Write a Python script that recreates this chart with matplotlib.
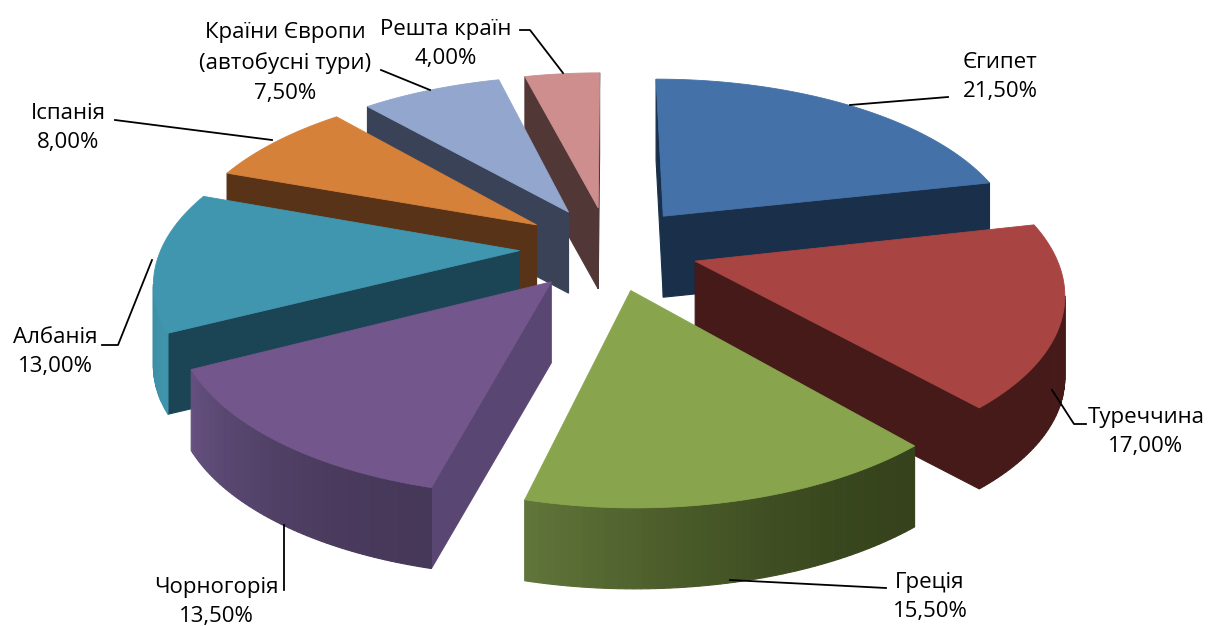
import numpy as np
from matplotlib import pyplot as plt
from matplotlib.colors import to_rgb
from matplotlib.patches import Polygon

plt.rcParams["font.family"] = ["Open Sans", "DejaVu Sans"]

names = ["Єгипет", "Туреччина", "Греція", "Чорногорія", "Албанія", "Іспанія",
         "Країни Європи\n(автобусні тури)", "Решта країн"]
values = [21.5, 17.0, 15.5, 13.5, 13.0, 8.0, 7.5, 4.0]

top_colors = ["#4472A8", "#A84442", "#88A54E", "#72568C", "#4096AF", "#D68139", "#92A6CE", "#CE8E8E"]
cut_colors = ["#1A2F4A", "#451A19", "#35421B", "#5A4672", "#1B4554", "#583317", "#3A4258", "#523737"]
wall_from = ["#1A2F4A", "#451A19", "#35421B", "#463859", "#3F93AB", "#583317", "#3A4258", "#523737"]
wall_to = ["#1A2F4A", "#451A19", "#607539", "#65507F", "#2E7A90", "#583317", "#3A4258", "#523737"]

# text centre of each label and its leader line, in picture pixels
label_pos = [(1000, 77), (1146, 432), (930, 597), (216, 602), (55, 352), (68, 128), (285, 63), (446, 44)]
leaders = [
    [(850, 105), (948, 97)],
    [(1052, 390), (1074, 424), (1086, 424)],
    [(730, 580), (886, 588)],
    [(284, 525), (284, 590)],
    [(152, 260), (118, 345), (102, 345)],
    [(272, 140), (115, 120)],
    [(430, 90), (381, 70)],
    [(563, 73), (530, 30), (520, 30)],
]

CX, CY = 609, 248
AX, AY = 358, 168
PERSP = 0.158
EXPLODE = 0.25
WALL = 81


# Plane point to picture pixels, y of the plane goes toward the viewer
def project(x, y, drop=0):
    w = 1 - PERSP * y
    return CX + AX * x / w, CY + AY * y / w + drop


def signed_area(pts):
    pts = np.array(pts)
    x, y = pts[:, 0], pts[:, 1]
    return 0.5 * np.sum(x * np.roll(y, -1) - np.roll(x, -1) * y)


def draw_wall(ax, a, b, color):
    # Only the walls turned to the viewer
    pts = [project(*a), project(*b), project(*b, WALL), project(*a, WALL)]
    if signed_area(pts) < 0:
        ax.add_patch(Polygon(pts, closed=True, fc=color, ec=color, lw=0.8))


fig = plt.figure(figsize=(12.08, 6.26), dpi=100)
ax = fig.add_axes([0, 0, 1, 1])
ax.set_xlim(0, 1208)
ax.set_ylim(626, 0)
ax.axis("off")

# Angles run clockwise from 12 o'clock
edges = np.radians(np.cumsum([0] + values) * 3.6)
wedges = []
for i in range(len(values)):
    mid = (edges[i] + edges[i + 1]) / 2
    ox, oy = EXPLODE * np.sin(mid), -EXPLODE * np.cos(mid)
    wedges.append((oy, i, ox))

# Back wedges first
for oy, i, ox in sorted(wedges):
    angs = np.linspace(edges[i], edges[i + 1], 60)
    rim = [(ox + np.sin(t), oy - np.cos(t)) for t in angs]
    apex = (ox, oy)

    draw_wall(ax, apex, rim[0], cut_colors[i])
    draw_wall(ax, rim[-1], apex, cut_colors[i])

    c0, c1 = np.array(to_rgb(wall_from[i])), np.array(to_rgb(wall_to[i]))
    for j in range(len(rim) - 1):
        f = (j / (len(rim) - 2)) ** 1.6
        draw_wall(ax, rim[j], rim[j + 1], tuple(c0 + (c1 - c0) * f))

    top = [project(*apex)] + [project(*p) for p in rim]
    ax.add_patch(Polygon(top, closed=True, fc=top_colors[i], ec=top_colors[i], lw=0.6))

for i in range(len(values)):
    xs, ys = zip(*leaders[i])
    ax.plot(xs, ys, color="black", lw=1.3)
    txt = names[i] + "\n" + f"{values[i]:.2f}".replace(".", ",") + "%"
    ax.text(label_pos[i][0], label_pos[i][1], txt, ha="center", va="center",
            fontsize=16, color="black", linespacing=1.55)

fig.savefig("out.png", dpi=100)
